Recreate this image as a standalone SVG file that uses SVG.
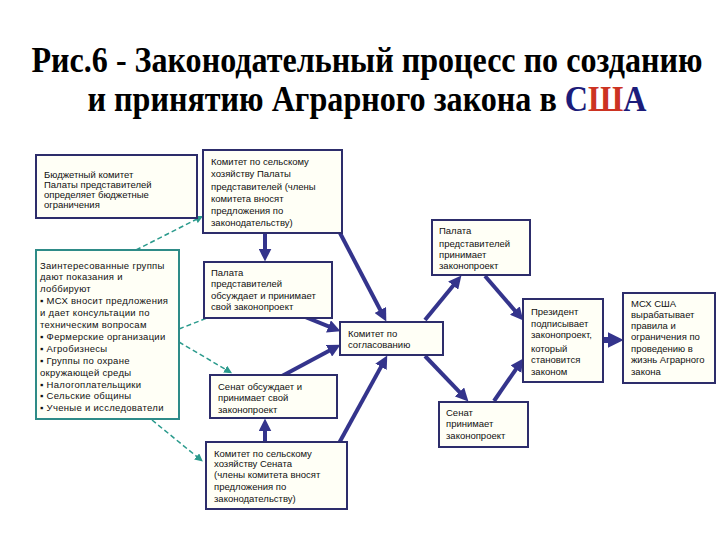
<svg xmlns="http://www.w3.org/2000/svg" width="720" height="540" viewBox="0 0 720 540">
<style>
.bg{fill:#ffffff}
.title{font-family:"Liberation Serif","Times New Roman",serif;font-weight:bold;font-size:31px;fill:#000}
.box{fill:#fffff6;stroke:#2d2d6b;stroke-width:2}
.tbox{fill:#fffff6;stroke:#2e8b87;stroke-width:2}
.t{font-family:"Liberation Sans",Arial,sans-serif;font-size:9.5px;fill:#111}
.g{letter-spacing:0.3px}
.arr{stroke:#34348c;stroke-width:4;fill:none;marker-end:url(#ah)}
.big{stroke:#34348c;stroke-width:6;fill:none;marker-end:url(#ahb)}
.dash{stroke:#2a9a8c;stroke-width:1.5;fill:none;stroke-dasharray:5,3;marker-end:url(#ad)}
</style>
<defs>
<marker id="ah" viewBox="0 0 12 12" refX="5" refY="6" markerWidth="13" markerHeight="13" markerUnits="userSpaceOnUse" orient="auto"><path d="M0,0 L12,6 L0,12 z" fill="#34348c"/></marker>
<marker id="ahb" viewBox="0 0 12 12" refX="4" refY="6" markerWidth="16" markerHeight="16" markerUnits="userSpaceOnUse" orient="auto"><path d="M0,0 L12,6 L0,12 z" fill="#34348c"/></marker>
<marker id="ad" viewBox="0 0 10 10" refX="7" refY="5" markerWidth="8" markerHeight="8" markerUnits="userSpaceOnUse" orient="auto"><path d="M0,0 L10,5 L0,10 z" fill="#2a9a8c"/></marker>
</defs>
<rect class="bg" x="0" y="0" width="720" height="540"/>
<g id="title">
<g transform="translate(0,72) scale(1,1.13)">
<text class="title" x="367" y="0" text-anchor="middle" textLength="671" lengthAdjust="spacingAndGlyphs">Рис.6 - Законодательный процесс по созданию</text>
</g>
<g transform="translate(0,111) scale(1,1.13)">
<text class="title" x="367" y="0" text-anchor="middle" textLength="559" lengthAdjust="spacingAndGlyphs">и принятию Аграрного закона в <tspan fill="#1c1c7a">С</tspan><tspan fill="#cc3322">Ш</tspan><tspan fill="#1c1c7a">А</tspan></text>
</g>
</g>
<g id="connectors">
<line class="arr" x1="265" y1="234" x2="265" y2="254"/>
<line class="arr" x1="340" y1="233" x2="382.8" y2="314.8"/>
<line class="arr" x1="278" y1="306" x2="333.5" y2="328.4"/>
<line class="arr" x1="282" y1="376" x2="333.8" y2="348.3"/>
<line class="arr" x1="265" y1="441" x2="265" y2="426"/>
<line class="arr" x1="338" y1="445" x2="383.6" y2="362.1"/>
<line class="arr" x1="425" y1="356" x2="463.2" y2="395.9"/>
<line class="arr" x1="425" y1="320" x2="456.6" y2="281.4"/>
<line class="arr" x1="485" y1="276" x2="518.4" y2="314.7"/>
<line class="arr" x1="494" y1="401" x2="519" y2="364.8"/>
<line class="big" x1="603" y1="340" x2="613" y2="340"/>
<line class="dash" x1="136" y1="250" x2="201" y2="217"/>
<line class="dash" x1="179" y1="329" x2="230" y2="309"/>
<line class="dash" x1="179" y1="342" x2="230" y2="372"/>
<line class="dash" x1="152" y1="420" x2="201" y2="460"/>
</g>
<g id="budget">
<rect class="box" x="36" y="155" width="161" height="63"/>
<text class="t" x="44" y="177.5">Бюджетный комитет</text>
<text class="t" x="44" y="188">Палаты представителей</text>
<text class="t" x="44" y="198">определяет бюджетные</text>
<text class="t" x="44" y="208">ограничения</text>
</g>
<g id="groups">
<rect class="tbox" x="36" y="250" width="143" height="169"/>
<text class="t g" x="40" y="268.5">Заинтересованные группы</text>
<text class="t g" x="40" y="280.4">дают показания и</text>
<text class="t g" x="40" y="292.3">лоббируют</text>
<text class="t g" x="40" y="304.2">▪ МСХ вносит предложения</text>
<text class="t g" x="40" y="316.1">и дает консультации по</text>
<text class="t g" x="40" y="328">техническим вопросам</text>
<text class="t g" x="40" y="339.9">▪ Фермерские организации</text>
<text class="t g" x="40" y="351.8">▪ Агробизнесы</text>
<text class="t g" x="40" y="363.7">▪ Группы по охране</text>
<text class="t g" x="40" y="375.6">окружающей среды</text>
<text class="t g" x="40" y="387.5">▪ Налогоплательщики</text>
<text class="t g" x="40" y="399.4">▪ Сельские общины</text>
<text class="t g" x="40" y="411.3">▪ Ученые и исследователи</text>
</g>
<g id="house-committee">
<rect class="box" x="203" y="150" width="139" height="83"/>
<text class="t" x="211" y="165">Комитет по сельскому</text>
<text class="t" x="211" y="177">хозяйству Палаты</text>
<text class="t" x="211" y="189.5">представителей (члены</text>
<text class="t" x="211" y="201.5">комитета вносят</text>
<text class="t" x="211" y="213.5">предложения по</text>
<text class="t" x="211" y="225.5">законодательству)</text>
</g>
<g id="house-debate">
<rect class="box" x="204" y="262" width="128" height="56"/>
<text class="t" x="211" y="276">Палата</text>
<text class="t" x="211" y="287">представителей</text>
<text class="t" x="211" y="298.5">обсуждает и принимает</text>
<text class="t" x="211" y="310">свой законопроект</text>
</g>
<g id="senate-debate">
<rect class="box" x="210" y="375" width="127" height="43"/>
<text class="t" x="218" y="390">Сенат обсуждает и</text>
<text class="t" x="218" y="401">принимает свой</text>
<text class="t" x="218" y="412.5">законопроект</text>
</g>
<g id="senate-committee">
<rect class="box" x="206" y="442" width="141" height="67"/>
<text class="t" x="214" y="456.5">Комитет по сельскому</text>
<text class="t" x="214" y="466.5">хозяйству  Сената</text>
<text class="t" x="214" y="477.5">(члены комитета вносят</text>
<text class="t" x="214" y="490">предложения по</text>
<text class="t" x="214" y="501.5">законодательству)</text>
</g>
<g id="conference">
<rect class="box" x="340" y="322" width="103" height="33"/>
<text class="t" x="348" y="336.5">Комитет по</text>
<text class="t" x="348" y="348">согласованию</text>
</g>
<g id="house-pass">
<rect class="box" x="432" y="220" width="98" height="55"/>
<text class="t" x="439" y="234">Палата</text>
<text class="t" x="439" y="246.5">представителей</text>
<text class="t" x="439" y="257.5">принимает</text>
<text class="t" x="439" y="269">законопроект</text>
</g>
<g id="senate-pass">
<rect class="box" x="439" y="402" width="89" height="45"/>
<text class="t" x="446" y="416">Сенат</text>
<text class="t" x="446" y="427">принимает</text>
<text class="t" x="446" y="438.5">законопроект</text>
</g>
<g id="president">
<rect class="box" x="523" y="299" width="80" height="83"/>
<text class="t" x="531" y="315">Президент</text>
<text class="t" x="531" y="326.5">подписывает</text>
<text class="t" x="531" y="338">законопроект,</text>
<text class="t" x="531" y="351.5">который</text>
<text class="t" x="531" y="363">становится</text>
<text class="t" x="531" y="375">законом</text>
</g>
<g id="msx">
<rect class="box" x="623" y="293" width="92" height="90"/>
<text class="t" x="631" y="306.5">МСХ США</text>
<text class="t" x="631" y="318">вырабатывает</text>
<text class="t" x="631" y="328.5">правила и</text>
<text class="t" x="631" y="340">ограничения по</text>
<text class="t" x="631" y="351.5">проведению в</text>
<text class="t" x="631" y="363">жизнь Аграрного</text>
<text class="t" x="631" y="375">закона</text>
</g>
</svg>
